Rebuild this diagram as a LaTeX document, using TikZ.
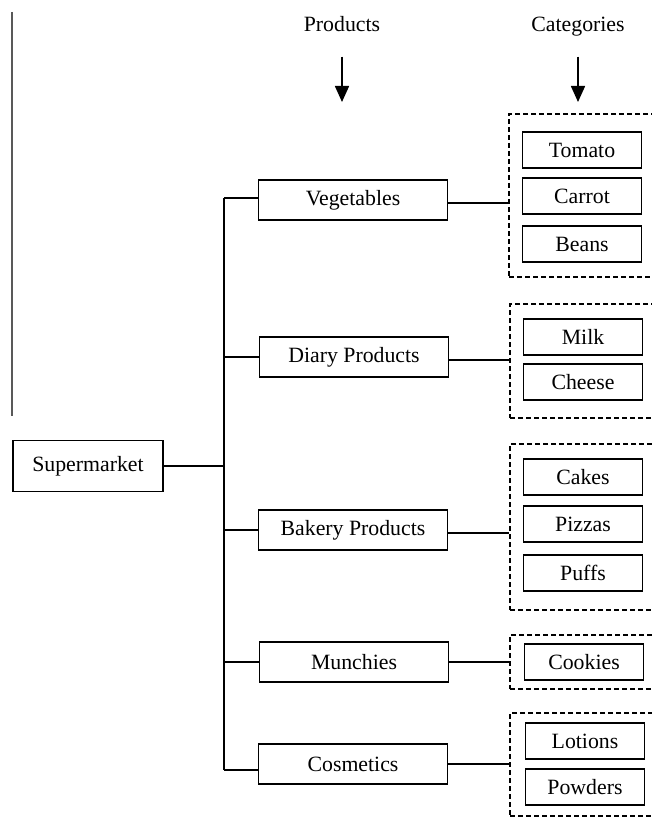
\documentclass[tikz,border=0pt]{standalone}
\usepackage{fontspec}
\setmainfont{Liberation Serif}
\usetikzlibrary{arrows.meta,positioning}

\begin{document}
\begin{tikzpicture}[
  x=0.5pt, y=-0.5pt,
  every node/.style={font=\fontsize{10.9}{13}\selectfont},
  headlbl/.style={text height=1.6ex,text depth=0.5ex},
  rootbox/.style={draw,line width=0.8pt,minimum width=75pt,minimum height=25.5pt,inner sep=0pt},
  prodbox/.style={draw,line width=0.8pt,minimum width=94.5pt,minimum height=20pt,inner sep=0pt},
  catbox/.style={draw,line width=0.8pt,minimum width=59.5pt,minimum height=18pt,inner sep=0pt},
  grpbox/.style={draw,dash pattern=on 2.5pt off 1.5pt,line width=0.7pt,minimum width=80pt,inner sep=0pt},
  link/.style={line width=0.8pt},
  arr/.style={-{Triangle[width=7pt,length=8pt]},line width=0.8pt},
]
  \useasboundingbox (0,0) rectangle (652,818);

  % Margin rule (left)
  \draw[gray!70!black,line width=0.6pt] (12,12) -- (12,416);

  % Column headings
  \node[headlbl] (prodlbl) at (342,26) {Products};
  \node[headlbl] (catlbl) at (578,26) {Categories};
  \coordinate (prodtip) at (342,102);
  \coordinate (cattip) at (578,102);
  \draw[arr] ([yshift=-7pt]prodlbl.south) -- (prodtip);
  \draw[arr] ([yshift=-7pt]catlbl.south) -- (cattip);

  % Root
  \node[rootbox] (super) at (88,466) {Supermarket};

  % Products
  \node[prodbox] (veg) at (353,200) {Vegetables};
  \node[prodbox] (diary) at (354,357) {Diary Products};
  \node[prodbox] (bakery) at (353,530) {Bakery Products};
  \node[prodbox] (munch) at (354,662) {Munchies};
  \node[prodbox] (cosm) at (353,764) {Cosmetics};

  % Trunk
  \coordinate (trunktop) at (224,198);
  \coordinate (trunkmid) at (224,466);
  \coordinate (trunkbot) at (224,770);
  \draw[link] (trunktop) -- (trunkbot);
  \draw[link] (super.east) -- (trunkmid);
  \draw[link] (trunktop) -- (veg.west |- trunktop);
  \draw[link] (diary.west) -- (diary.west -| trunktop);
  \draw[link] (bakery.west) -- (bakery.west -| trunktop);
  \draw[link] (munch.west) -- (munch.west -| trunktop);
  \draw[link] (trunkbot) -- (cosm.west |- trunkbot);

  % Category groups (dashed)
  \node[grpbox,minimum height=81.5pt] (gveg) at (589,195.5) {};
  \node[grpbox,minimum height=57pt] (gdiary) at (590,361) {};
  \node[grpbox,minimum height=83pt] (gbakery) at (590,527) {};
  \node[grpbox,minimum height=27pt] (gmunch) at (590,662) {};
  \node[grpbox,minimum height=51.5pt] (gcosm) at (590,764.5) {};

  % Categories
  \node[catbox] (tomato) at (582,150) {Tomato};
  \node[catbox] (carrot) at (582,196) {Carrot};
  \node[catbox] (beans) at (582,244) {Beans};
  \node[catbox] (milk) at (583,337) {Milk};
  \node[catbox] (cheese) at (583,382) {Cheese};
  \node[catbox] (cakes) at (583,477) {Cakes};
  \node[catbox] (pizzas) at (583,524) {Pizzas};
  \node[catbox] (puffs) at (583,573) {Puffs};
  \node[catbox] (cookies) at (584,662) {Cookies};
  \node[catbox] (lotions) at (585,741) {Lotions};
  \node[catbox] (powders) at (585,787) {Powders};

  % Product to group links
  \draw[link] ([yshift=-1.5pt]veg.east) -- ([yshift=-1.5pt]veg.east -| gveg.west);
  \draw[link] ([yshift=-1.5pt]diary.east) -- ([yshift=-1.5pt]diary.east -| gdiary.west);
  \draw[link] ([yshift=-1.5pt]bakery.east) -- ([yshift=-1.5pt]bakery.east -| gbakery.west);
  \draw[link] (munch.east) -- (munch.east -| gmunch.west);
  \draw[link] (cosm.east) -- (cosm.east -| gcosm.west);
\end{tikzpicture}
\end{document}
